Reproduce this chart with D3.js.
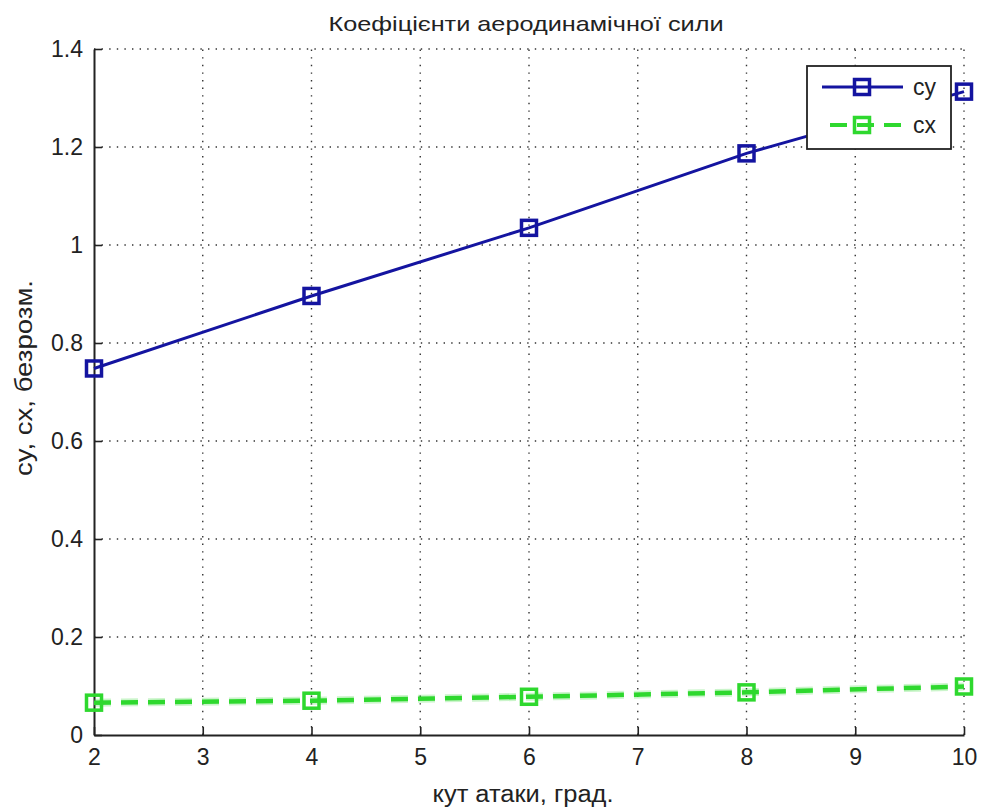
<!DOCTYPE html>
<html>
<head>
<meta charset="utf-8">
<script src="https://cdn.jsdelivr.net/npm/d3@7"></script>
<style>
  html, body { margin: 0; padding: 0; background: #fff; }
  svg { display: block; }
  text { font-family: "Liberation Sans", Arial, sans-serif; fill: #222; }
</style>
</head>
<body>
<svg id="chart" width="981" height="811"></svg>
<script>
const angles = [2, 4, 6, 8, 10];
const cyValues = [0.748, 0.896, 1.035, 1.187, 1.313];
const cxValues = [0.066, 0.070, 0.078, 0.087, 0.099];
const xTicks = [2, 3, 4, 5, 6, 7, 8, 9, 10];
const yTicks = [0, 0.2, 0.4, 0.6, 0.8, 1, 1.2, 1.4];
const seriesNames = ["cy", "cx"];
const titleText = "Коефіцієнти аеродинамічної сили";
const xLabelText = "кут атаки, град.";
const yLabelText = "cy, cx, безрозм.";

const W = 981, H = 811;
const m = { left: 94, right: 17, top: 49, bottom: 76 };
const svg = d3.select("#chart");

const x = d3.scaleLinear().domain([2, 10]).range([m.left, W - m.right]);
const y = d3.scaleLinear().domain([0, 1.4]).range([H - m.bottom, m.top]);

const blue = "#1414a0";
const green = "#2ed82e";

// grid
const grid = svg.append("g");
grid.selectAll(".vg").data(xTicks.filter(d => d !== 2)).enter().append("line")
  .attr("x1", d => x(d)).attr("x2", d => x(d))
  .attr("y1", y(0)).attr("y2", y(1.4))
  .attr("stroke", "#333").attr("stroke-width", 1.4)
  .attr("stroke-dasharray", "1.4,6.2");
grid.selectAll(".hg").data(yTicks.filter(d => d !== 0)).enter().append("line")
  .attr("x1", x(2)).attr("x2", x(10))
  .attr("y1", d => y(d)).attr("y2", d => y(d))
  .attr("stroke", "#333").attr("stroke-width", 1.4)
  .attr("stroke-dasharray", "1.4,6.2");

// axes
const xAxis = d3.axisBottom(x).tickValues(xTicks).tickSizeInner(-8).tickSizeOuter(0).tickPadding(14)
  .tickFormat(d3.format("d"));
const yAxis = d3.axisLeft(y).tickValues(yTicks).tickSizeInner(-8).tickSizeOuter(0).tickPadding(11)
  .tickFormat(d => d === 0 ? "0" : d === 1 ? "1" : d3.format(".1f")(d));

const gx = svg.append("g").attr("transform", `translate(0,${y(0)})`).call(xAxis);
const gy = svg.append("g").attr("transform", `translate(${x(2)},0)`).call(yAxis);
[gx, gy].forEach(g => {
  g.select(".domain").attr("stroke", "#222").attr("stroke-width", 2);
  g.selectAll(".tick line").attr("stroke", "#222").attr("stroke-width", 1.6);
  g.selectAll(".tick text").attr("font-size", 23).attr("fill", "#222")
    .attr("font-family", '"Liberation Sans", Arial, sans-serif');
});
gx.selectAll(".tick text").attr("dy", "0.68em");

// lines
const line = (vals) => d3.line().x((d, i) => x(angles[i])).y(d => y(d))(vals);

svg.append("path").attr("d", line(cxValues)).attr("fill", "none")
  .attr("stroke", green).attr("stroke-opacity", 0.25).attr("stroke-width", 8)
  .attr("stroke-dasharray", "17,10");
svg.append("path").attr("d", line(cxValues)).attr("fill", "none")
  .attr("stroke", green).attr("stroke-width", 4.5)
  .attr("stroke-dasharray", "17,10");
svg.selectAll(".cxm").data(cxValues).enter().append("rect")
  .attr("x", (d, i) => x(angles[i]) - 7.5).attr("y", d => y(d) - 7.5)
  .attr("width", 15).attr("height", 15)
  .attr("fill", "none").attr("stroke", green).attr("stroke-width", 3.5);

svg.append("path").attr("d", line(cyValues)).attr("fill", "none")
  .attr("stroke", blue).attr("stroke-width", 3);
svg.selectAll(".cym").data(cyValues).enter().append("rect")
  .attr("x", (d, i) => x(angles[i]) - 7.5).attr("y", d => y(d) - 7.5)
  .attr("width", 15).attr("height", 15)
  .attr("fill", "none").attr("stroke", blue).attr("stroke-width", 3.5);

// legend
const lg = svg.append("g");
lg.append("rect").attr("x", 807).attr("y", 66).attr("width", 144).attr("height", 83)
  .attr("fill", "#fff").attr("stroke", "#222").attr("stroke-width", 1.8);
const rows = [
  { name: seriesNames[0], color: blue, dash: null, yy: 87, x1: 822 },
  { name: seriesNames[1], color: green, dash: "17,10", yy: 125, x1: 830 }
];
rows.forEach(r => {
  lg.append("line").attr("x1", r.x1).attr("x2", 903).attr("y1", r.yy).attr("y2", r.yy)
    .attr("stroke", r.color).attr("stroke-width", r.dash ? 4 : 3)
    .attr("stroke-dasharray", r.dash);
  lg.append("rect").attr("x", 862 - 7.5).attr("y", r.yy - 7.5).attr("width", 15).attr("height", 15)
    .attr("fill", "none").attr("stroke", r.color).attr("stroke-width", 3.5);
  lg.append("text").attr("x", 913).attr("y", r.yy).attr("dy", "0.35em")
    .attr("font-size", 23).text(r.name);
});

// title & labels
svg.append("text").attr("x", 526).attr("y", 31).attr("text-anchor", "middle")
  .attr("font-size", 21).attr("textLength", 395).attr("lengthAdjust", "spacingAndGlyphs")
  .text(titleText);
svg.append("text").attr("x", 523).attr("y", 802).attr("text-anchor", "middle")
  .attr("font-size", 23).attr("textLength", 181).attr("lengthAdjust", "spacingAndGlyphs")
  .text(xLabelText);
svg.append("text").attr("transform", "translate(32,378) rotate(-90)").attr("text-anchor", "middle")
  .attr("font-size", 23).attr("textLength", 196).attr("lengthAdjust", "spacingAndGlyphs")
  .text(yLabelText);
</script>
</body>
</html>
